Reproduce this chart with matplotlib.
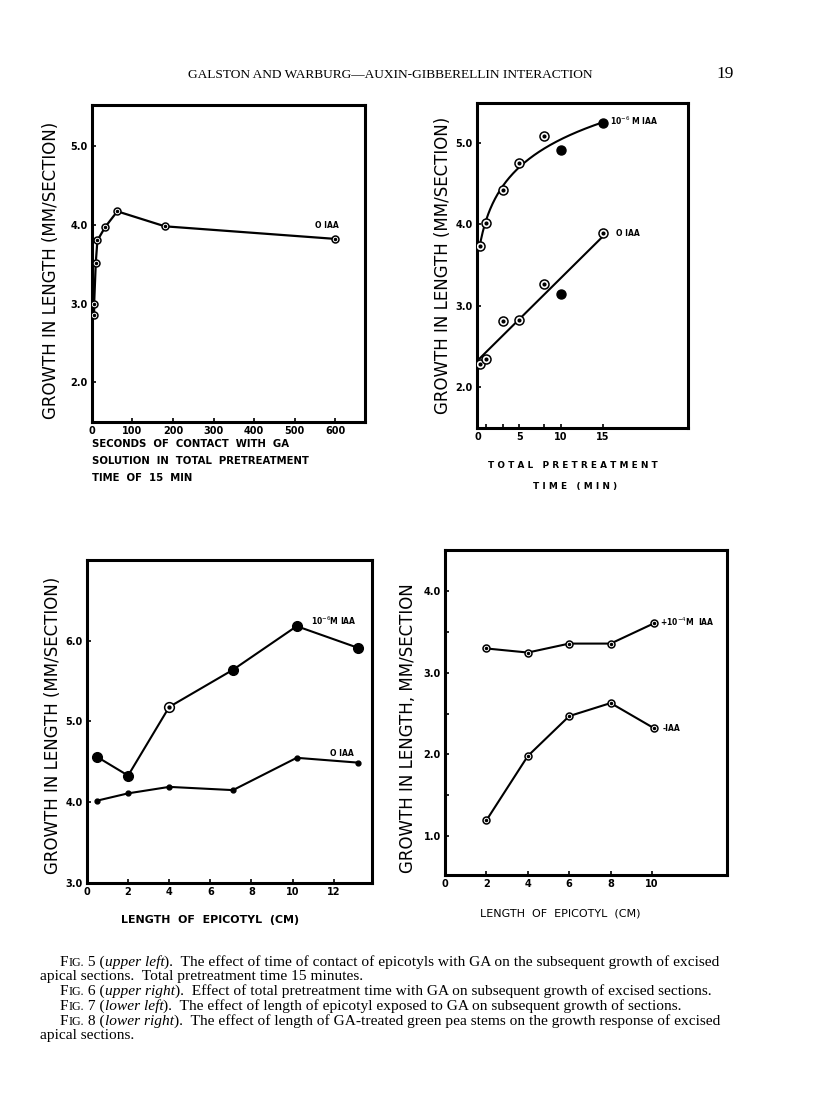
import numpy as np
import matplotlib
matplotlib.use("Agg")
import matplotlib.pyplot as plt

# ----------------------------------------------------------------------------------------------------------------------
# Datos

# Fig. 5: segundos de contacto con GA, 0 IAA
seg_contacto = [6, 6, 10, 14, 33, 63, 180, 600]
crec_fig5 = [2.86, 3.00, 3.52, 3.80, 3.97, 4.17, 3.98, 3.82]

# Fig. 6: tiempo total de pretratamiento (min)
t_pre = [0.25, 1, 3, 5, 8, 10, 15]
crec_fig6_iaa = [3.74, 4.02, 4.42, 4.75, 5.08, 4.91, 5.25]
relleno_fig6_iaa = [False, False, False, False, False, True, True]
crec_fig6_0 = [2.29, 2.35, 2.82, 2.83, 3.27, 3.14, 3.89]
relleno_fig6_0 = [False, False, False, False, False, True, False]

# Fig. 7: longitud de epicotilo (cm)
long_fig7 = [0.5, 2.0, 4.0, 7.1, 10.2, 13.2]
crec_fig7_iaa = [4.56, 4.33, 5.18, 5.64, 6.18, 5.91]
relleno_fig7_iaa = [True, True, False, True, True, True]
crec_fig7_0 = [4.02, 4.11, 4.19, 4.15, 4.55, 4.49]

# Fig. 8: longitud de tallo (cm)
long_fig8 = [2.0, 4.0, 6.0, 8.0, 10.1]
crec_fig8_iaa = [3.30, 3.25, 3.36, 3.36, 3.61]
crec_fig8_sin = [1.19, 1.98, 2.47, 2.63, 2.32]

ylabel_1 = "GROWTH IN LENGTH (MM/SECTION)"
ylabel_2 = "GROWTH IN LENGTH, MM/SECTION"

# ----------------------------------------------------------------------------------------------------------------------

FUENTE = "DejaVu Sans"
SERIF = "Liberation Serif"
plt.rcParams["font.family"] = FUENTE
plt.rcParams["axes.linewidth"] = 2.2


def marco(ax):
    ax.tick_params(direction="in", length=3, width=1.2, labelsize=7, pad=3)
    for lab in ax.get_xticklabels() + ax.get_yticklabels():
        lab.set_fontweight("bold")


def circulo(ax, x, y, tam=6, relleno=None):
    if relleno is None:
        relleno = [False] * len(x)
    for xi, yi, r in zip(x, y, relleno):
        if r:
            ax.plot(xi, yi, "o", ms=tam, mfc="black", mec="black", zorder=4)
        else:
            ax.plot(xi, yi, "o", ms=tam, mfc="white", mec="black", mew=1.1, zorder=4)
            ax.plot(xi, yi, "o", ms=tam * 0.3, mfc="black", mec="black", zorder=5)


fig = plt.figure(figsize=(8.16, 11.17), dpi=100)

# encabezado
fig.text(0.478, 1 - 75 / 1117, "GALSTON AND WARBURG—AUXIN-GIBBERELLIN INTERACTION",
         family=SERIF, fontsize=9.6, ha="center", va="center")
fig.text(0.889, 1 - 74 / 1117, "19", family=SERIF, fontsize=12.5, ha="center", va="center")

# ---------------- Fig. 5
ax1 = fig.add_axes([0.1124, 0.6225, 0.335, 0.2835])
ax1.plot(seg_contacto, crec_fig5, color="black", lw=1.6)
circulo(ax1, seg_contacto, crec_fig5, tam=5)
ax1.set_xlim(0, 673)
ax1.set_ylim(1.5, 5.52)
ax1.set_xticks([0, 100, 200, 300, 400, 500, 600])
ax1.set_xticklabels(["0", "100", "200", "300", "400", "500", "600"])
ax1.set_yticks([2.0, 3.0, 4.0, 5.0])
ax1.set_yticklabels(["2.0", "3.0", "4.0", "5.0"])
marco(ax1)
ax1.text(550, 3.96, "O IAA", fontsize=5.5, fontweight="bold")
fig.text(0.0625, 1 - 270 / 1117, ylabel_1, rotation=90, fontsize=12, ha="center", va="center")
for i, t in enumerate(["SECONDS OF CONTACT WITH GA", "SOLUTION IN TOTAL PRETREATMENT", "TIME OF 15 MIN"]):
    fig.text(92 / 816, 1 - (444 + 17 * i) / 1117, "  ".join(t.split(" ")), fontsize=7.3,
             fontweight="bold", va="center")

# ---------------- Fig. 6
ax2 = fig.add_axes([0.5842, 0.6168, 0.259, 0.291])
# curva logaritmica ajustada a los puntos con IAA
xa = np.array(t_pre)
ya = np.array(crec_fig6_iaa)
mejor = None
for k in np.linspace(0.1, 5, 99):
    A = np.column_stack([np.ones_like(xa), np.log(xa + k)])
    coef = np.linalg.lstsq(A, ya, rcond=None)[0]
    err = np.sum((A @ coef - ya) ** 2)
    if mejor is None or err < mejor[0]:
        mejor = (err, k, coef)
_, k_opt, coef_opt = mejor
xs = np.linspace(xa.min(), xa.max(), 200)
ax2.plot(xs, coef_opt[0] + coef_opt[1] * np.log(xs + k_opt), color="black", lw=1.5)
# recta ajustada a los puntos sin IAA
pend, orde = np.polyfit(t_pre, crec_fig6_0, 1)
ax2.plot(xs, pend * xs + orde, color="black", lw=1.5)
circulo(ax2, t_pre, crec_fig6_iaa, tam=6.5, relleno=relleno_fig6_iaa)
circulo(ax2, t_pre, crec_fig6_0, tam=6.5, relleno=relleno_fig6_0)
ax2.set_xlim(-0.1, 25.2)
ax2.set_ylim(1.5, 5.49)
ax2.set_xticks([0, 5, 10, 15])
ax2.set_xticks([1, 3, 8], minor=True)
ax2.set_yticks([2.0, 3.0, 4.0, 5.0])
ax2.set_yticklabels(["2.0", "3.0", "4.0", "5.0"])
marco(ax2)
ax2.tick_params(which="minor", direction="in", length=3, width=1.2)
ax2.text(15.9, 5.22, "10$^{-6}$ M IAA", fontsize=5.5, fontweight="bold")
ax2.text(16.6, 3.86, "O IAA", fontsize=5.5, fontweight="bold")
fig.text(443 / 816, 1 - 265 / 1117, ylabel_1, rotation=90, fontsize=12, ha="center", va="center")
fig.text(573 / 816, 1 - 465 / 1117, "T O T A L   P R E T R E A T M E N T", fontsize=6.4,
         fontweight="bold", ha="center", va="center")
fig.text(575 / 816, 1 - 487 / 1117, "T I M E   ( M I N )", fontsize=6.4,
         fontweight="bold", ha="center", va="center")

# ---------------- Fig. 7
ax3 = fig.add_axes([0.1066, 0.2095, 0.349, 0.2892])
ax3.plot(long_fig7, crec_fig7_iaa, color="black", lw=1.5)
ax3.plot(long_fig7, crec_fig7_0, color="black", lw=1.5)
circulo(ax3, long_fig7, crec_fig7_iaa, tam=7, relleno=relleno_fig7_iaa)
ax3.plot(long_fig7, crec_fig7_0, "o", ms=3.5, color="black", zorder=4)
ax3.set_xlim(0, 13.85)
ax3.set_ylim(3.0, 7.0)
ax3.set_xticks([0, 2, 4, 6, 8, 10, 12])
ax3.set_yticks([3.0, 4.0, 5.0, 6.0])
ax3.set_yticklabels(["3.0", "4.0", "5.0", "6.0"])
marco(ax3)
ax3.text(10.9, 6.19, "10$^{-6}$M IAA", fontsize=5.5, fontweight="bold")
ax3.text(11.8, 4.57, "O IAA", fontsize=5.5, fontweight="bold")
fig.text(53 / 816, 1 - 725 / 1117, ylabel_1, rotation=90, fontsize=12, ha="center", va="center")
fig.text(210 / 816, 1 - 920 / 1117, "LENGTH  OF  EPICOTYL  (CM)", fontsize=7.9,
         fontweight="bold", ha="center", va="center")

# ---------------- Fig. 8
ax4 = fig.add_axes([0.5453, 0.2167, 0.3452, 0.291])
ax4.plot(long_fig8, crec_fig8_iaa, color="black", lw=1.5)
ax4.plot(long_fig8, crec_fig8_sin, color="black", lw=1.5)
circulo(ax4, long_fig8, crec_fig8_iaa, tam=5)
circulo(ax4, long_fig8, crec_fig8_sin, tam=5)
ax4.set_xlim(0, 13.6)
ax4.set_ylim(0.52, 4.51)
ax4.set_xticks([0, 2, 4, 6, 8, 10])
ax4.set_yticks([1.0, 2.0, 3.0, 4.0])
ax4.set_yticklabels(["1.0", "2.0", "3.0", "4.0"])
ax4.set_yticks([1.5, 2.5, 3.5], minor=True)
marco(ax4)
ax4.tick_params(which="minor", direction="in", length=3, width=1.2)
ax4.text(10.4, 3.58, "+10$^{-4}$M  IAA", fontsize=5.5, fontweight="bold")
ax4.text(10.5, 2.29, "-IAA", fontsize=5.5, fontweight="bold")
fig.text(408 / 816, 1 - 728 / 1117, ylabel_2, rotation=90, fontsize=12, ha="center", va="center")
fig.text(560 / 816, 1 - 913 / 1117, "LENGTH  OF  EPICOTYL  (CM)", fontsize=8,
         ha="center", va="center")

# ---------------- leyenda de figuras (versalitas simuladas con tamanos distintos)
TAM = 11.1
leyenda = [
    (60, 966, "5", "upper left",
     ").  The effect of time of contact of epicotyls with GA on the subsequent growth of excised"),
    (40, 980, None, None, "apical sections.  Total pretreatment time 15 minutes."),
    (60, 995, "6", "upper right",
     ").  Effect of total pretreatment time with GA on subsequent growth of excised sections."),
    (60, 1010, "7", "lower left",
     ").  The effect of length of epicotyl exposed to GA on subsequent growth of sections."),
    (60, 1025, "8", "lower right",
     ").  The effect of length of GA-treated green pea stems on the growth response of excised"),
    (40, 1039, None, None, "apical sections."),
]
ax_txt = fig.add_axes([0, 0, 1, 1])
ax_txt.axis("off")
for x, y, num, quien, resto in leyenda:
    if num is None:
        fig.text(x / 816, 1 - y / 1117, resto, family=SERIF, fontsize=TAM, va="baseline")
        continue
    trozos = [("IG.", TAM * 0.78, "normal"), (" " + num + " (", TAM, "normal"),
              (quien, TAM, "italic"), (resto, TAM, "normal")]
    previo = fig.text(x / 816, 1 - y / 1117, "F", family=SERIF, fontsize=TAM, va="baseline")
    for texto, tam, estilo in trozos:
        previo = ax_txt.annotate(texto, xy=(1, 0), xycoords=previo, xytext=(0, 0),
                                 textcoords="offset points", family=SERIF, fontsize=tam,
                                 fontstyle=estilo, ha="left", va="bottom", annotation_clip=False)

plt.savefig("out.png", dpi=100)
